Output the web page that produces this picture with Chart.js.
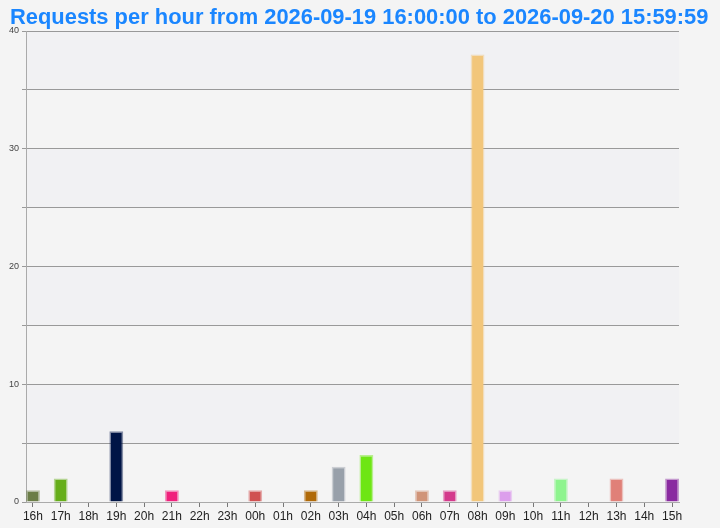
<!DOCTYPE html>
<html>
<head>
<meta charset="utf-8">
<script src="https://cdn.jsdelivr.net/npm/chart.js@4"></script>
<style>
html,body{margin:0;padding:0;background:#f4f4f4;}
#wrap{width:720px;height:528px;position:relative;}
</style>
</head>
<body>
<div id="wrap"><canvas id="c" width="720" height="528"></canvas></div>
<script>
const titleText = 'Requests per hour from 2026-09-19 16:00:00 to 2026-09-20 15:59:59';
const hours = ['16h','17h','18h','19h','20h','21h','22h','23h','00h','01h','02h','03h','04h','05h','06h','07h','08h','09h','10h','11h','12h','13h','14h','15h'];
const requests = [1,2,0,6,0,1,0,0,1,0,1,3,4,0,1,1,38,1,0,2,0,2,0,2];
const barColors = ['#6b7d47','#66ae1a','#888888','#001446','#888888','#f0207c','#888888','#888888','#d05252','#888888','#b06a08','#98a0aa','#6ee614','#888888','#d09478','#d43a8c','#f2c67a','#dc9eec','#888888','#8ef48e','#888888','#e08078','#888888','#8a2aa0'];
const yTicks = [0,5,10,15,20,25,30,35,40];

function hexAlpha(h,a){const n=parseInt(h.slice(1),16);return `rgba(${n>>16},${(n>>8)&255},${n&255},${a})`;}

const bandPlugin = {
  id:'bands',
  beforeDraw(chart){
    const {ctx, chartArea:a, scales:{y}} = chart;
    ctx.save();
    for(let i=0;i<yTicks.length-1;i++){
      const lo=yTicks[i], hi=yTicks[i+1];
      ctx.fillStyle = (i%2===1) ? '#f1f1f3' : '#f4f4f4';
      const t=y.getPixelForValue(hi), b=y.getPixelForValue(lo);
      ctx.fillRect(a.left,t,a.right-a.left,b-t);
    }
    ctx.restore();
  }
};

const titlePlugin = {
  id:'pageTitle',
  afterDraw(chart){
    const ctx = chart.ctx;
    ctx.save();
    ctx.font = 'bold 21.9px "Liberation Sans", Arial, sans-serif';
    ctx.fillStyle = '#1a86ff';
    ctx.textAlign = 'left';
    ctx.textBaseline = 'alphabetic';
    ctx.fillText(titleText, 10, 23.5);
    ctx.restore();
  }
};

new Chart(document.getElementById('c'),{
  type:'bar',
  data:{
    datasets:[{
      data: hours.map((h,i)=>({x:i,y:requests[i]})),
      backgroundColor: barColors,
      borderColor: barColors.map(c=>hexAlpha(c,0.45)),
      borderWidth: 1.5,
      barPercentage: 0.5,
      categoryPercentage: 1.0
    }]
  },
  options:{
    responsive:false,
    animation:false,
    layout:{padding:{left:0,right:41,top:31,bottom:0}},
    plugins:{
      legend:{display:false},
      tooltip:{enabled:false},
      title:{display:false}
    },
    scales:{
      x:{
        type:'linear',
        min:-0.25,
        max:23.25,
        offset:false,
        afterBuildTicks(s){ s.ticks = hours.map((_,i)=>({value:i})); },
        afterFit(s){ s.height = 26; },
        ticks:{
          autoSkip:false,
          maxRotation:0,
          padding:2,
          color:'#222',
          font:{family:'"Liberation Sans", Arial, sans-serif',size:12},
          callback:(v)=>hours[v]
        },
        grid:{offset:false,drawOnChartArea:false,drawTicks:true,tickLength:5,color:'#777',lineWidth:1},
        border:{display:true,color:'#aaa',width:1}
      },
      y:{
        min:0,max:40,
        afterBuildTicks(s){ s.ticks = yTicks.map(v=>({value:v})); },
        afterFit(s){ s.width = 26; },
        ticks:{
          color:'#444',
          padding:3,
          font:{family:'"Liberation Sans", Arial, sans-serif',size:9},
          callback:(v)=> (v%10===0 ? String(v) : '')
        },
        grid:{color:'#999',lineWidth:1,drawTicks:true,tickLength:4},
        border:{display:true,color:'#aaa',width:1}
      }
    }
  },
  plugins:[bandPlugin,titlePlugin]
});
</script>
</body>
</html>
